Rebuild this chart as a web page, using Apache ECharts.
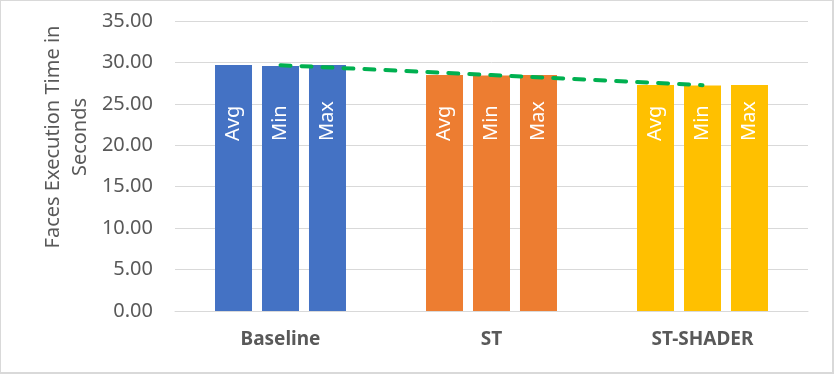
<!DOCTYPE html>
<html>
<head>
<meta charset="utf-8">
<script src="https://cdn.jsdelivr.net/npm/echarts@6/dist/echarts.min.js"></script>
<style>
html,body{margin:0;padding:0;background:#fff;}
#chart{position:absolute;left:0;top:0;width:837px;height:375px;}
#frame{position:absolute;left:0;top:0;width:834px;height:374px;box-sizing:border-box;border-style:solid;border-color:#d9d9d9;border-width:1px 2px 2px 1px;pointer-events:none;}
</style>
</head>
<body>
<div id="chart"></div>
<div id="frame"></div>
<script>
const categories = ['Baseline', 'ST', 'ST-SHADER'];
const avgValues = [29.70, 28.47, 27.28];
const minValues = [29.58, 28.42, 27.22];
const maxValues = [29.68, 28.48, 27.28];
const trendValues = [29.67, 28.47, 27.26];
const groupColors = ['#4472C4', '#ED7D31', '#FFC000'];
const yTicks = { min: 0, max: 35, interval: 5 };

const chart = echarts.init(document.getElementById('chart'), null, { renderer: 'canvas' });
const FONT = 'Noto Sans';

function barSeries(name, values) {
  return {
    name: name,
    type: 'bar',
    data: values,
    barWidth: 37,
    barGap: '27%',
    itemStyle: { color: p => groupColors[p.dataIndex] },
    label: {
      show: true,
      formatter: name,
      position: 'insideBottom',
      distance: 170,
      rotate: 90,
      align: 'left',
      verticalAlign: 'middle',
      color: '#ffffff',
      fontSize: 20,
      fontFamily: FONT
    },
    z: 2
  };
}

chart.setOption({
  animation: false,
  grid: { left: 175, right: 29, top: 21, bottom: 64, containLabel: false },
  xAxis: {
    type: 'category',
    data: categories,
    axisLine: { lineStyle: { color: '#d9d9d9', width: 1 } },
    axisTick: { show: false },
    axisLabel: { color: '#595959', fontSize: 19, fontWeight: 'bold', fontFamily: FONT, margin: 19 }
  },
  yAxis: {
    type: 'value',
    min: yTicks.min, max: yTicks.max, interval: yTicks.interval,
    axisLine: { show: false },
    axisTick: { show: false },
    splitLine: { lineStyle: { color: '#d9d9d9', width: 1 } },
    axisLabel: { color: '#595959', fontSize: 20, fontFamily: FONT, margin: 22, formatter: v => v.toFixed(2) }
  },
  graphic: [{
    type: 'text',
    x: 67, y: 137,
    rotation: Math.PI / 2,
    style: {
      text: 'Faces Execution Time in\nSeconds',
      fill: '#595959',
      font: '20px "Noto Sans"',
      align: 'center',
      verticalAlign: 'middle',
      lineHeight: 27
    }
  }],
  series: [
    barSeries('Avg', avgValues),
    barSeries('Min', minValues),
    barSeries('Max', maxValues),
    {
      name: 'Trend',
      type: 'line',
      data: trendValues,
      showSymbol: false,
      symbol: 'none',
      lineStyle: { color: '#00B050', width: 4, type: [10, 11], cap: 'round' },
      z: 5
    }
  ]
});
</script>
</body>
</html>
